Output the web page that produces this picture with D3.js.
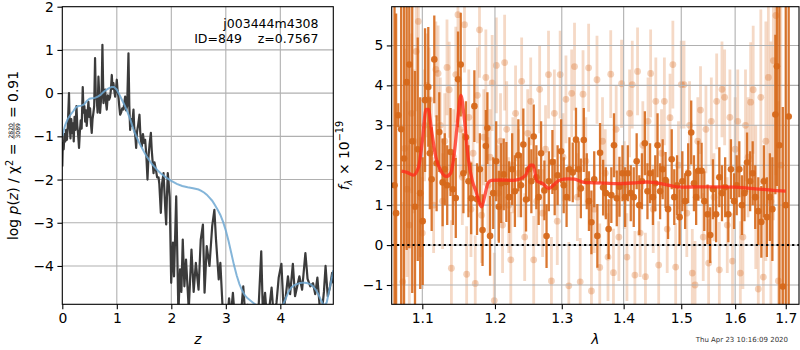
<!DOCTYPE html>
<html><head><meta charset="utf-8">
<script src="https://cdn.jsdelivr.net/npm/d3@7"></script>
<style>body{margin:0;background:#fff} svg{font-family:"DejaVu Sans",sans-serif}</style>
</head><body><svg id="c" width="800" height="350"></svg>
<script>
// ---------- data ----------
const zTicks=[0,1,2,3,4];
const logpTicks=[2,1,0,-1,-2,-3,-4];
const lamTicks=[1.1,1.2,1.3,1.4,1.5,1.6,1.7];
const fluxTicks=[-1,0,1,2,3,4,5];
const objName="j003444m4308";
const objInfo="ID=849    z=0.7567";
const stamp="Thu Apr 23 10:16:09 2020";
// log p(z) (dark line)
const pzLine=[[0.000,-1.70],[0.010,-1.15],[0.025,-1.30],[0.040,-0.95],[0.055,-1.12],[0.070,-0.85],[0.085,-1.08],[0.100,-0.80],[0.123,0.00],[0.135,-0.75],[0.150,-1.05],[0.165,-0.60],[0.180,-0.92],[0.195,-0.70],[0.210,-1.12],[0.225,-0.55],[0.240,-0.85],[0.260,-0.30],[0.275,-0.75],[0.290,-0.95],[0.307,-1.27],[0.322,-0.90],[0.338,-0.63],[0.355,-0.82],[0.375,0.14],[0.390,-0.45],[0.405,-0.30],[0.420,-0.66],[0.435,-0.40],[0.448,-0.76],[0.465,-0.45],[0.479,-0.20],[0.495,-0.55],[0.510,-0.35],[0.525,-0.70],[0.540,-0.92],[0.555,-0.60],[0.570,-0.46],[0.585,-0.30],[0.601,0.81],[0.615,-0.10],[0.632,-0.15],[0.648,-0.45],[0.663,0.38],[0.678,-0.05],[0.693,-0.46],[0.708,-0.20],[0.722,0.05],[0.736,1.12],[0.755,-0.23],[0.770,0.00],[0.785,0.08],[0.800,-0.20],[0.816,-0.38],[0.835,-0.05],[0.859,-0.15],[0.875,-0.10],[0.890,0.05],[0.908,0.42],[0.923,0.10],[0.938,0.23],[0.955,0.05],[0.969,-0.08],[0.985,0.10],[1.000,0.31],[1.015,0.05],[1.030,-0.08],[1.045,-0.30],[1.061,-0.50],[1.080,-0.45],[1.100,-0.35],[1.122,-0.38],[1.140,-0.20],[1.153,-0.08],[1.170,-0.40],[1.190,-0.30],[1.214,0.92],[1.230,-0.30],[1.245,-0.85],[1.260,-0.60],[1.280,-0.75],[1.306,-0.38],[1.320,-0.80],[1.340,-1.00],[1.355,-1.27],[1.370,-0.90],[1.390,-0.75],[1.416,-0.50],[1.430,-0.90],[1.445,-1.10],[1.459,-1.23],[1.480,-0.95],[1.500,-1.15],[1.520,-1.08],[1.540,-1.40],[1.563,-2.00],[1.580,-1.50],[1.600,-1.20],[1.625,-0.92],[1.640,-1.30],[1.655,-1.55],[1.674,-1.85],[1.690,-1.60],[1.717,-1.77],[1.740,-1.95],[1.766,-1.95],[1.780,-2.10],[1.808,-2.77],[1.830,-2.10],[1.857,-1.85],[1.875,-2.30],[1.890,-2.70],[1.906,-3.04],[1.920,-2.40],[1.935,-1.85],[1.950,-2.05],[1.970,-2.40],[1.998,-4.39],[2.030,-3.46],[2.050,-4.24],[2.090,-2.39],[2.130,-5.10],[2.160,-4.08],[2.185,-4.60],[2.210,-3.39],[2.240,-4.47],[2.270,-3.85],[2.320,-5.00],[2.370,-3.62],[2.410,-4.60],[2.450,-3.93],[2.500,-4.55],[2.540,-3.39],[2.580,-3.04],[2.610,-4.62],[2.650,-3.54],[2.700,-4.00],[2.750,-3.08],[2.790,-2.70],[2.820,-3.39],[2.870,-4.31],[2.900,-3.93],[2.950,-5.20],[2.990,-4.95],[3.020,-5.30],[3.060,-4.75],[3.090,-5.20],[3.130,-4.62],[3.170,-5.30],[3.220,-4.95],[3.260,-5.40],[3.320,-4.47],[3.360,-5.20],[3.400,-4.90],[3.450,-5.30],[3.500,-4.95],[3.550,-5.40],[3.600,-5.00],[3.650,-3.66],[3.680,-5.10],[3.720,-4.62],[3.760,-5.30],[3.800,-4.95],[3.840,-4.50],[3.880,-5.20],[3.930,-4.85],[3.970,-4.27],[4.020,-3.95],[4.060,-5.00],[4.100,-4.70],[4.140,-4.24],[4.180,-4.65],[4.230,-3.95],[4.270,-4.70],[4.310,-4.47],[4.350,-4.24],[4.400,-4.55],[4.460,-3.70],[4.500,-4.30],[4.550,-4.47],[4.600,-4.40],[4.640,-4.65],[4.680,-4.27],[4.720,-4.90],[4.760,-5.10],[4.800,-4.60],[4.830,-4.00],[4.870,-4.70],[4.910,-4.50],[4.950,-4.16],[4.972,-4.40]];
// smooth curve (blue)
const priorLine=[[0,-1.0],[0.05,-0.75],[0.1,-0.6],[0.15,-0.5],[0.2,-0.42],[0.25,-0.33],[0.3,-0.3],[0.35,-0.29],[0.4,-0.26],[0.45,-0.18],[0.5,-0.13],[0.55,-0.12],[0.6,-0.11],[0.65,-0.08],[0.7,-0.04],[0.75,0.02],[0.8,0.07],[0.85,0.11],[0.9,0.14],[0.95,0.14],[1.0,0.08],[1.05,-0.04],[1.1,-0.17],[1.15,-0.3],[1.2,-0.45],[1.25,-0.62],[1.3,-0.82],[1.35,-0.98],[1.4,-1.12],[1.45,-1.24],[1.5,-1.36],[1.55,-1.47],[1.6,-1.56],[1.65,-1.65],[1.7,-1.72],[1.75,-1.79],[1.8,-1.85],[1.85,-1.9],[1.9,-1.95],[1.95,-1.99],[2.0,-2.03],[2.1,-2.1],[2.2,-2.15],[2.3,-2.18],[2.4,-2.2],[2.5,-2.23],[2.55,-2.26],[2.6,-2.3],[2.65,-2.35],[2.7,-2.42],[2.75,-2.49],[2.8,-2.59],[2.85,-2.7],[2.9,-2.82],[2.95,-2.98],[3.0,-3.18],[3.05,-3.42],[3.1,-3.7],[3.15,-3.98],[3.2,-4.22],[3.25,-4.42],[3.3,-4.57],[3.35,-4.68],[3.4,-4.75],[3.45,-4.8],[3.5,-4.85],[3.55,-4.9],[3.6,-4.93],[3.7,-5.0],[3.8,-5.05],[3.9,-5.08],[4.0,-5.0],[4.05,-4.9],[4.1,-4.75],[4.15,-4.6],[4.2,-4.5],[4.25,-4.45],[4.3,-4.42],[4.35,-4.4],[4.4,-4.39],[4.45,-4.39],[4.5,-4.4],[4.55,-4.42],[4.6,-4.47],[4.65,-4.55],[4.7,-4.66],[4.75,-4.8],[4.8,-4.92],[4.85,-4.85],[4.9,-4.55],[4.95,-4.25],[4.972,-4.1]];
// spectrum, dark set: [wavelength, flux, error]
const darkPoints=[[1.0640,1.5,5.0],[1.0660,0.8,5.0],[1.0688,3.25,0.3],[1.0725,2.9,4.6],[1.0762,2.17,4.8],[1.0796,4.08,4.2],[1.0830,4.52,4.6],[1.0868,2.6,3.8],[1.0904,0.96,3.4],[1.0940,2.4,2.8],[1.0972,1.3,2.4],[1.1005,0.60,1.6],[1.1036,3.63,1.8],[1.1079,3.96,1.5],[1.1100,2.3,1.4],[1.1124,1.65,1.3],[1.1159,4.65,1.1],[1.1190,2.05,1.2],[1.1226,2.83,1.0],[1.1271,1.57,1.1],[1.1300,1.9,0.9],[1.1333,1.50,1.0],[1.1378,2.33,1.1],[1.1410,1.40,0.9],[1.1450,1.18,1.0],[1.1481,4.15,1.2],[1.1518,4.52,1.3],[1.1555,1.8,1.0],[1.1590,2.7,0.9],[1.1625,1.6,0.9],[1.1663,1.17,0.9],[1.1708,3.48,0.9],[1.1745,1.15,0.9],[1.1785,1.9,0.9],[1.1823,0.375,0.9],[1.1870,2.48,0.9],[1.1892,2.93,0.9],[1.1930,0.23,1.0],[1.1975,1.3,0.9],[1.2018,2.10,1.0],[1.2056,0.96,0.9],[1.2090,1.55,1.0],[1.2127,1.77,0.9],[1.2165,1.58,1.0],[1.2205,1.2,0.9],[1.2250,1.9,0.9],[1.2290,1.35,0.9],[1.2341,2.25,0.9],[1.2380,1.5,0.8],[1.2415,2.52,0.9],[1.2455,1.14,0.8],[1.2500,1.9,0.8],[1.2535,1.6,0.8],[1.2570,2.72,0.8],[1.2610,1.7,0.8],[1.2645,1.2,0.7],[1.2682,2.30,0.8],[1.2732,1.37,0.75],[1.2765,0.225,0.8],[1.2800,1.6,0.75],[1.2855,2.08,0.8],[1.2890,1.45,0.7],[1.2935,1.75,0.75],[1.2990,2.35,0.8],[1.3030,1.5,0.7],[1.3075,1.2,0.75],[1.3120,1.9,0.8],[1.3172,1.82,0.75],[1.3223,2.64,0.8],[1.3265,1.9,0.7],[1.3300,1.42,0.75],[1.3347,2.63,0.8],[1.3395,1.6,0.7],[1.3430,1.1,0.75],[1.3470,0.57,0.8],[1.3515,1.65,0.7],[1.3566,0.23,0.8],[1.3610,2.31,0.75],[1.3660,1.44,0.7],[1.3705,1.3,0.65],[1.3750,0.40,0.75],[1.3795,1.25,0.7],[1.3839,2.50,0.8],[1.3885,1.17,0.7],[1.3930,1.46,0.75],[1.3980,1.8,0.7],[1.4025,1.2,0.75],[1.4070,1.80,0.7],[1.4120,1.3,0.7],[1.4170,1.2,0.75],[1.4220,2.1,0.7],[1.4265,1.0,0.75],[1.4310,1.6,0.7],[1.4360,2.55,0.8],[1.4405,1.35,0.7],[1.4450,1.8,0.75],[1.4500,1.2,0.7],[1.4540,1.55,0.7],[1.4580,2.50,0.8],[1.4625,1.35,0.7],[1.4670,1.9,0.75],[1.4720,1.63,0.7],[1.4765,0.9,0.75],[1.4830,2.15,0.75],[1.4875,1.2,0.7],[1.4925,1.5,0.75],[1.4970,0.7,0.7],[1.5020,1.6,0.75],[1.5070,1.1,0.7],[1.5125,1.8,0.75],[1.5180,2.82,0.8],[1.5230,1.55,0.7],[1.5270,1.2,0.7],[1.5310,1.86,0.75],[1.5370,1.86,0.7],[1.5420,1.1,0.75],[1.5480,0.77,0.75],[1.5530,0.25,0.7],[1.5580,1.4,0.75],[1.5640,0.77,0.7],[1.5700,1.7,0.75],[1.5750,1.3,0.7],[1.5810,1.45,0.75],[1.5870,0.77,0.7],[1.5920,1.9,0.75],[1.5980,1.1,0.7],[1.6030,1.5,0.75],[1.6080,1.9,0.7],[1.6130,1.0,0.75],[1.6180,1.3,0.7],[1.6230,2.07,0.75],[1.6290,1.6,0.75],[1.6340,1.8,0.8],[1.6390,1.2,0.8],[1.6450,0.85,0.85],[1.6510,0.58,0.9],[1.6560,1.6,0.9],[1.6620,0.7,1.0],[1.6680,1.2,1.1],[1.6730,0.90,1.3],[1.6790,3.27,2.0],[1.6820,4.48,3.0],[1.6870,2.5,4.0],[1.6940,-1.04,4.5],[1.7000,1.0,5.0],[1.7060,3.22,5.0]];
// spectrum, light set: [wavelength, flux, error]
const lightPoints=[[1.0745,-0.92,2.0],[1.0770,2.42,2.5],[1.0800,1.4,2.2],[1.0830,0.5,2.0],[1.0860,3.3,2.0],[1.0890,2.6,1.8],[1.0920,4.85,1.5],[1.0948,5.60,1.6],[1.0975,1.2,1.5],[1.1000,0.3,1.4],[1.1030,3.0,1.4],[1.1060,4.0,1.3],[1.1090,3.65,1.3],[1.1120,2.4,1.3],[1.1150,1.0,1.2],[1.1180,4.4,1.2],[1.1210,4.30,1.2],[1.1240,3.0,1.2],[1.1270,1.1,1.2],[1.1300,2.6,1.2],[1.1330,4.45,1.2],[1.1360,3.89,1.2],[1.1390,-0.58,1.2],[1.1420,2.2,1.2],[1.1450,4.27,1.2],[1.1480,5.77,1.2],[1.1510,2.9,1.2],[1.1540,1.7,1.2],[1.1570,5.52,1.2],[1.1600,-0.73,1.2],[1.1630,3.2,1.2],[1.1660,0.9,1.2],[1.1690,2.3,1.2],[1.1720,-0.96,1.2],[1.1750,3.75,1.2],[1.1780,5.39,1.2],[1.1810,0.75,1.2],[1.1840,2.7,1.2],[1.1870,4.2,1.2],[1.1900,1.5,1.2],[1.1930,2.2,1.2],[1.1960,4.06,1.2],[1.1990,-1.39,1.2],[1.2020,4.5,1.2],[1.2050,1.3,1.2],[1.2080,2.6,1.2],[1.2110,0.5,1.2],[1.2140,4.57,1.2],[1.2170,2.9,1.2],[1.2200,1.0,1.2],[1.2230,-0.37,1.2],[1.2260,2.0,1.2],[1.2300,3.3,1.2],[1.2345,1.8,1.1],[1.2390,4.1,1.1],[1.2435,0.2,1.1],[1.2480,2.8,1.1],[1.2525,3.6,1.1],[1.2570,-0.37,1.1],[1.2615,1.1,1.1],[1.2660,3.9,1.1],[1.2705,0.8,1.1],[1.2750,2.4,1.1],[1.2795,4.27,1.1],[1.2840,-0.9,1.1],[1.2885,3.3,1.1],[1.2930,0.6,1.1],[1.2975,4.27,1.1],[1.3020,2.2,1.1],[1.3065,3.65,1.1],[1.3110,-1.02,1.1],[1.3155,3.8,1.1],[1.3200,4.47,1.1],[1.3245,1.2,1.1],[1.3290,-0.92,1.1],[1.3335,3.78,1.1],[1.3380,2.1,1.1],[1.3425,4.44,1.1],[1.3470,-1.15,1.1],[1.3515,0.9,1.1],[1.3560,4.14,1.1],[1.3605,-0.56,1.1],[1.3650,2.6,1.1],[1.3695,1.8,1.1],[1.3740,-0.3,1.1],[1.3785,4.28,1.1],[1.3830,-0.69,1.1],[1.3875,2.9,1.1],[1.3920,0.2,1.1],[1.3965,4.04,1.1],[1.4010,1.5,1.1],[1.4055,-0.3,1.1],[1.4100,3.3,1.1],[1.4145,4.02,1.1],[1.4190,-0.75,1.1],[1.4235,4.35,1.1],[1.4280,0.3,1.1],[1.4325,2.5,1.1],[1.4370,-0.79,1.1],[1.4415,3.1,1.1],[1.4460,4.3,1.1],[1.4505,0.9,1.1],[1.4550,3.6,1.1],[1.4600,-0.5,1.1],[1.4650,2.3,1.1],[1.4700,3.6,1.1],[1.4750,0.4,1.1],[1.4800,3.19,1.1],[1.4850,4.52,1.1],[1.4900,-0.55,1.1],[1.4950,2.0,1.1],[1.5000,4.02,1.1],[1.5050,4.02,1.1],[1.5100,0.8,1.1],[1.5150,3.0,1.1],[1.5200,-0.7,1.1],[1.5250,-1.0,1.1],[1.5300,2.6,1.1],[1.5350,3.38,1.1],[1.5400,0.2,1.1],[1.5450,2.9,1.1],[1.5500,-0.45,1.1],[1.5550,3.1,1.1],[1.5600,1.2,1.1],[1.5650,3.6,1.2],[1.5700,-0.62,1.2],[1.5750,3.9,1.2],[1.5800,3.7,1.2],[1.5850,0.5,1.2],[1.5900,3.2,1.2],[1.5950,-0.4,1.2],[1.6000,2.4,1.3],[1.6050,3.1,1.3],[1.6100,-0.7,1.3],[1.6150,0.2,1.3],[1.6200,3.0,1.4],[1.6250,2.2,1.5],[1.6300,3.58,1.5],[1.6350,3.89,1.6],[1.6400,1.2,1.8],[1.6450,-1.1,2.0],[1.6500,3.7,2.2],[1.6550,-0.8,2.5],[1.6600,2.6,3.0],[1.6650,4.2,3.5],[1.6700,1.1,4.0],[1.6750,4.62,4.0],[1.6800,5.75,4.0],[1.6850,-0.9,4.5],[1.6900,2.0,4.5]];
// model (red)
const modelLine=[[1.073,1.85],[1.080,1.82],[1.088,1.75],[1.095,1.95],[1.100,2.6],[1.105,3.4],[1.108,3.4],[1.112,2.9],[1.118,2.2],[1.125,1.85],[1.132,1.72],[1.138,1.80],[1.143,2.3],[1.148,3.2],[1.152,3.75],[1.156,3.3],[1.162,2.2],[1.168,1.6],[1.173,1.35],[1.178,1.05],[1.181,0.96],[1.185,1.2],[1.190,1.55],[1.195,1.62],[1.210,1.63],[1.225,1.62],[1.235,1.65],[1.245,1.75],[1.252,2.0],[1.256,2.0],[1.262,1.6],[1.270,1.55],[1.280,1.42],[1.287,1.5],[1.297,1.63],[1.310,1.66],[1.320,1.65],[1.335,1.57],[1.350,1.56],[1.370,1.55],[1.390,1.54],[1.420,1.56],[1.440,1.58],[1.470,1.52],[1.500,1.45],[1.530,1.46],[1.555,1.46],[1.600,1.45],[1.640,1.41],[1.675,1.37],[1.700,1.35]];

// ---------- layout ----------
const FS=13.9;
const L={x0:62.3,x1:333.3,y0:6.7,y1:304.3};
const R={x0:391.7,x1:799,y0:6.7,y1:304.3};
const svg=d3.select("#c");
const xz=d3.scaleLinear().domain([0,4.972]).range([L.x0,L.x1]);
const yp=d3.scaleLinear().domain([-4.887,2]).range([L.y1,L.y0]);
const xl=d3.scaleLog().domain([1.0604,1.7272]).range([R.x0,R.x1]);
const yf=d3.scaleLinear().domain([-1.483,5.97]).range([R.y1,R.y0]);
const defs=svg.append("defs");
[["clipL",L],["clipR",R]].forEach(([id,A])=>{
  defs.append("clipPath").attr("id",id).append("rect").attr("x",A.x0).attr("y",A.y0).attr("width",A.x1-A.x0).attr("height",A.y1-A.y0);
});
const GRID="#b0b0b0";
function grid(A,xs,xv,ys,yv){
  const g=svg.append("g").attr("stroke",GRID).attr("stroke-width",1.1);
  xv.forEach(v=>g.append("line").attr("x1",xs(v)).attr("x2",xs(v)).attr("y1",A.y0).attr("y2",A.y1));
  yv.forEach(v=>g.append("line").attr("y1",ys(v)).attr("y2",ys(v)).attr("x1",A.x0).attr("x2",A.x1));
}
function styleAxis(sel){
  sel.select(".domain").remove();
  sel.selectAll(".tick line").attr("stroke","#000").attr("stroke-width",1.1);
  sel.selectAll(".tick text").attr("font-size",FS).attr("fill","#000").attr("font-family","DejaVu Sans");
}
function frame(A){
  svg.append("rect").attr("x",A.x0).attr("y",A.y0).attr("width",A.x1-A.x0).attr("height",A.y1-A.y0)
    .attr("fill","none").attr("stroke","#000").attr("stroke-width",1.1);
}

// ---------- left panel ----------
grid(L,xz,zTicks.slice(1),yp,logpTicks.slice(1));
const gL=svg.append("g").attr("clip-path","url(#clipL)");
const lineL=d3.line().x(d=>xz(d[0])).y(d=>yp(d[1]));
gL.append("path").attr("d",lineL(pzLine)).attr("fill","none").attr("stroke","#3b3b3b").attr("stroke-width",2.2).attr("stroke-linejoin","round");
gL.append("path").attr("d",lineL(priorLine)).attr("fill","none").attr("stroke","#6fa8d2").attr("stroke-opacity",0.85).attr("stroke-width",2);
frame(L);
svg.append("g").attr("transform",`translate(0,${L.y1})`).call(d3.axisBottom(xz).tickValues(zTicks).tickSize(4.9).tickPadding(3.5).tickFormat(d3.format("d"))).call(styleAxis);
svg.append("g").attr("transform",`translate(${L.x0},0)`).call(d3.axisLeft(yp).tickValues(logpTicks).tickSize(4.9).tickPadding(3.5).tickFormat(d3.format("d"))).call(styleAxis);
svg.append("text").attr("x",318.5).attr("y",28.3).attr("text-anchor","end").attr("font-size",12.5).text(objName);
svg.append("text").attr("x",318.5).attr("y",42.7).attr("text-anchor","end").attr("font-size",12.5).attr("xml:space","preserve").style("white-space","pre").text(objInfo);
svg.append("text").attr("x",(L.x0+L.x1)/2).attr("y",344).attr("text-anchor","middle").attr("font-size",FS).attr("font-style","italic").text("z");

// left y label
(function(){
  const outer=svg.append("g").attr("transform","translate(18,155.5) rotate(-90)");
  const g=outer.append("g");
  const t=g.append("text").attr("font-size",FS).attr("xml:space","preserve").style("white-space","pre");
  t.append("tspan").text("log ");
  t.append("tspan").attr("font-style","italic").text("p");
  t.append("tspan").text("(");
  t.append("tspan").attr("font-style","italic").text("z");
  t.append("tspan").text(") / \u03c7");
  t.append("tspan").attr("font-size",FS*0.7).attr("dy",-5.5).text("2");
  t.append("tspan").attr("dy",5.5).text(" = ");
  const w1=t.node().getComputedTextLength();
  const fs2=6;
  const num=g.append("text").attr("font-size",fs2).attr("text-anchor","middle").text("2820");
  const den=g.append("text").attr("font-size",fs2).attr("text-anchor","middle").text("3089");
  const fw=Math.max(num.node().getComputedTextLength(),den.node().getComputedTextLength())+1.5;
  num.attr("x",w1+fw/2).attr("y",-5.2);
  den.attr("x",w1+fw/2).attr("y",1.6);
  g.append("line").attr("x1",w1).attr("x2",w1+fw).attr("y1",-4.0).attr("y2",-4.0).attr("stroke","#000").attr("stroke-width",0.6);
  const t3=g.append("text").attr("font-size",FS).attr("x",w1+fw).attr("xml:space","preserve").style("white-space","pre").text(" = 0.91");
  const total=w1+fw+t3.node().getComputedTextLength();
  g.attr("transform",`translate(${-total/2},0)`);
})();

// ---------- right panel ----------
const ORANGE="#d6681a";
const gR=svg.append("g").attr("clip-path","url(#clipR)");
const lg=gR.append("g");
lg.selectAll("line").data(lightPoints).join("line")
  .attr("x1",d=>xl(d[0])).attr("x2",d=>xl(d[0])).attr("y1",d=>yf(d[1]-d[2])).attr("y2",d=>yf(d[1]+d[2]))
  .attr("stroke",ORANGE).attr("stroke-opacity",0.25).attr("stroke-width",2.8);
lg.selectAll("circle").data(lightPoints).join("circle")
  .attr("cx",d=>xl(d[0])).attr("cy",d=>yf(d[1])).attr("r",3.4).attr("fill",ORANGE).attr("fill-opacity",0.3);
grid(R,xl,lamTicks,yf,fluxTicks);
const dg=svg.append("g").attr("clip-path","url(#clipR)");
dg.selectAll("line").data(darkPoints).join("line")
  .attr("x1",d=>xl(d[0])).attr("x2",d=>xl(d[0])).attr("y1",d=>yf(d[1]-d[2])).attr("y2",d=>yf(d[1]+d[2]))
  .attr("stroke",ORANGE).attr("stroke-opacity",0.9).attr("stroke-width",2.3);
dg.selectAll("circle").data(darkPoints).join("circle")
  .attr("cx",d=>xl(d[0])).attr("cy",d=>yf(d[1])).attr("r",3.3).attr("fill",ORANGE).attr("fill-opacity",0.95);
const lineR=d3.line().curve(d3.curveMonotoneX).x(d=>xl(d[0])).y(d=>yf(d[1]));
dg.append("path").attr("d",lineR(modelLine)).attr("fill","none").attr("stroke","#ff2a1a").attr("stroke-opacity",0.78).attr("stroke-width",3.3).attr("stroke-linejoin","round");
svg.append("line").attr("x1",R.x0).attr("x2",R.x1).attr("y1",yf(0)).attr("y2",yf(0))
  .attr("stroke","#000").attr("stroke-width",2).attr("stroke-dasharray","2.2,3");
frame(R);
svg.append("g").attr("transform",`translate(0,${R.y1})`).call(d3.axisBottom(xl).tickValues(lamTicks).tickSize(4.9).tickPadding(3.5).tickFormat(d=>d.toFixed(1))).call(styleAxis);
svg.append("g").attr("transform",`translate(${R.x0},0)`).call(d3.axisLeft(yf).tickValues(fluxTicks).tickSize(4.9).tickPadding(3.5).tickFormat(d3.format("d"))).call(styleAxis);
svg.append("text").attr("x",(R.x0+R.x1)/2).attr("y",344).attr("text-anchor","middle").attr("font-size",FS).attr("font-style","italic").text("\u03bb");
(function(){
  const g=svg.append("g").attr("transform","translate(349,155.5) rotate(-90)");
  const t=g.append("text").attr("font-size",FS).attr("text-anchor","middle").attr("xml:space","preserve").style("white-space","pre");
  t.append("tspan").attr("font-style","italic").text("f");
  t.append("tspan").attr("font-style","italic").attr("font-size",FS*0.7).attr("dy",3).text("\u03bb");
  t.append("tspan").attr("dy",-3).text(" \u00d7 10");
  t.append("tspan").attr("font-size",FS*0.7).attr("dy",-6).text("\u221219");
})();
svg.append("text").attr("x",788).attr("y",341.5).attr("text-anchor","end").attr("font-size",7).attr("fill","#333").text(stamp);
</script></body></html>
